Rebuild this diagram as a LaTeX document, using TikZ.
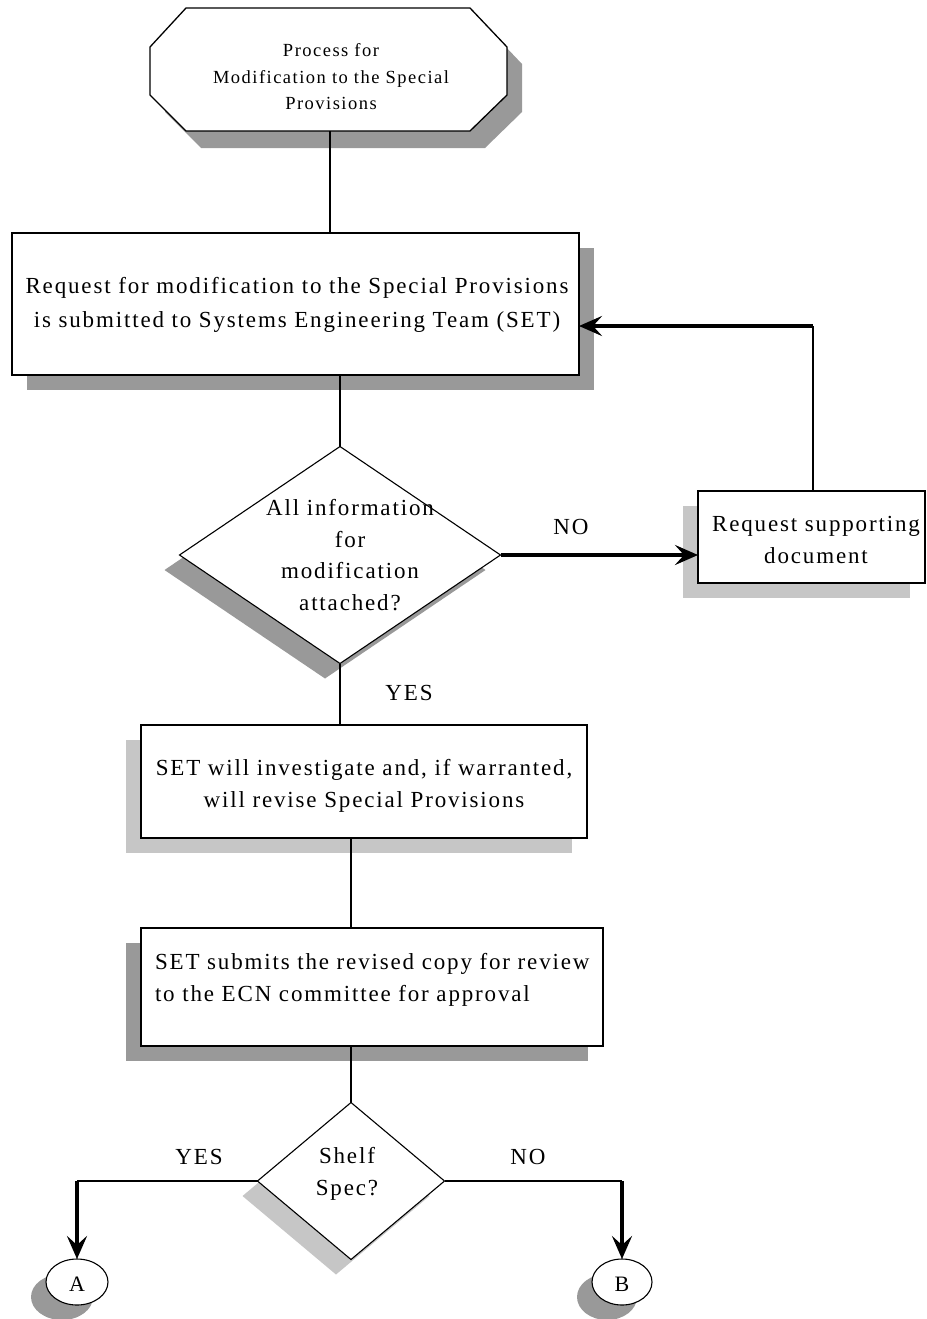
\documentclass[tikz,border=0pt]{standalone}
\usepackage{fontspec}
\setmainfont{Liberation Serif}[LetterSpace=8]
\usetikzlibrary{shapes.geometric,arrows.meta,shadows}

\definecolor{shadowdark}{HTML}{999999}
\definecolor{shadowlight}{HTML}{C6C6C6}

\newcommand\fsmall{\fontsize{18.5}{26.5}\selectfont}
\newcommand\fletter{\fontsize{22}{24}\selectfont}
\newcommand\fmid{\fontsize{23}{31.5}\selectfont}
\newcommand\fbig{\fontsize{23}{34}\selectfont}
\newcommand\fbigb{\fontsize{23}{32}\selectfont}

\tikzset{
  shape base/.style={draw=black, line width=1.3pt, fill=white, inner sep=0pt, outer sep=0pt},
  procbox/.style={shape base, rectangle},
  decision/.style={shape base, diamond, line width=1.1pt},
  connector/.style={shape base, ellipse, line width=1.1pt},
  dark shadow left/.style={general shadow={shadow xshift=-15pt, shadow yshift=-15pt, fill=shadowdark}},
  light shadow left/.style={general shadow={shadow xshift=-15pt, shadow yshift=-15pt, fill=shadowlight}},
  dark shadow right/.style={general shadow={shadow xshift=15pt, shadow yshift=-15pt, fill=shadowdark}},
  txt/.style={inner sep=0pt, outer sep=0pt, align=center},
  flow/.style={draw=black, line width=1.4pt},
  barb/.style={-{Stealth[length=23pt,width=20pt,inset=9pt]}},
  heavyflow/.style={draw=black, line width=4.5pt, barb},
}

\begin{document}
\begin{tikzpicture}[x=1pt,y=-1pt]
\useasboundingbox (0,0) rectangle (926,1319);

% start terminal: elongated octagon with its shadow
\fill[shadowdark] (201,25) -- (485,25) -- (522,64) -- (522,112) -- (485,148)
  -- (201,148) -- (165,112) -- (165,64) -- cycle;
\filldraw[fill=white, draw=black, line width=1.3pt]
  (186,8) -- (470,8) -- (507,47) -- (507,95) -- (470,131)
  -- (186,131) -- (150,95) -- (150,47) -- cycle;
\node[minimum width=357pt, minimum height=123pt, inner sep=0pt] (start) at (330,69.5) {};
\node[txt, font=\fsmall] (starttxt) at (331,77) {Process for\\Modification to the Special\\Provisions};

% process boxes
\node[procbox, dark shadow right, minimum width=567pt, minimum height=142pt] (box1) at (295.5,304) {};
\node[txt, font=\fbig] (box1txt) at (297,305)
  {Request for modification to the Special Provisions\\is submitted to Systems Engineering Team (SET)};

\node[decision, dark shadow left, minimum width=321pt, minimum height=217pt] (d1) at (340,555) {};
\node[txt, font=\fmid] (d1txt) at (350,555) {All information\\for\\modification\\attached?};

\node[procbox, light shadow left, minimum width=227pt, minimum height=92pt] (box2) at (811.5,537) {};
\node[txt, font=\fbigb] (box2txt) at (816,540) {Request supporting\\document};

\node[procbox, light shadow left, minimum width=446pt, minimum height=113pt] (box3) at (364,781.5) {};
\node[txt, font=\fmid] (box3txt) at (364,786)
  {SET will investigate and, if warranted,\\will revise Special Provisions};

\node[procbox, dark shadow left, minimum width=462pt, minimum height=118pt] (box4) at (372,987) {};
\node[txt, font=\fmid, align=left, anchor=west] (box4txt) at (155,980)
  {SET submits the revised copy for review\\to the ECN committee for approval};

\node[decision, light shadow left, minimum width=187pt, minimum height=157pt] (d2) at (351,1181) {};
\node[txt, font=\fmid] (d2txt) at (347,1174) {Shelf\\Spec?};

% off-page connectors
\node[connector, dark shadow left, minimum width=62pt, minimum height=46pt] (conA) at (77,1282) {};
\node[txt, font=\fletter] (conAtxt) at (77,1284) {A};
\node[connector, dark shadow left, minimum width=60pt, minimum height=46pt] (conB) at (622,1282) {};
\node[txt, font=\fletter] (conBtxt) at (622,1284) {B};

% branch labels
\node[txt, font=\fmid] (lno1) at (571,527) {NO};
\node[txt, font=\fmid] (lyes1) at (409,693) {YES};
\node[txt, font=\fmid] (lyes2) at (199,1157) {YES};
\node[txt, font=\fmid] (lno2) at (528,1157) {NO};

% main line of flow
\draw[flow] (start.south) -- (start.south |- box1.north);
\draw[flow] (d1.north |- box1.south) -- (d1.north);
\draw[flow] (d1.south) -- (d1.south |- box3.north);
\draw[flow] (d2.north |- box3.south) -- (d2.north |- box4.north);
\draw[flow] (d2.north |- box4.south) -- (d2.north);

% missing information loop
\draw[line width=4pt, barb] (d1.east) -- (d1.east -| box2.west);
\coordinate (loopturn) at (813,326);
\draw[flow] (box2.north -| loopturn) -- (loopturn);
\draw[heavyflow] (loopturn) -- (loopturn -| box1.east);

% shelf spec branches
\coordinate (yesturn) at (conA.north |- d2.west);
\coordinate (noturn) at (conB.north |- d2.east);
\draw[flow] (d2.west) -- (yesturn);
\draw[heavyflow] (yesturn) -- (conA.north);
\draw[flow] (d2.east) -- (noturn);
\draw[heavyflow] (noturn) -- (conB.north);
\end{tikzpicture}
\end{document}
